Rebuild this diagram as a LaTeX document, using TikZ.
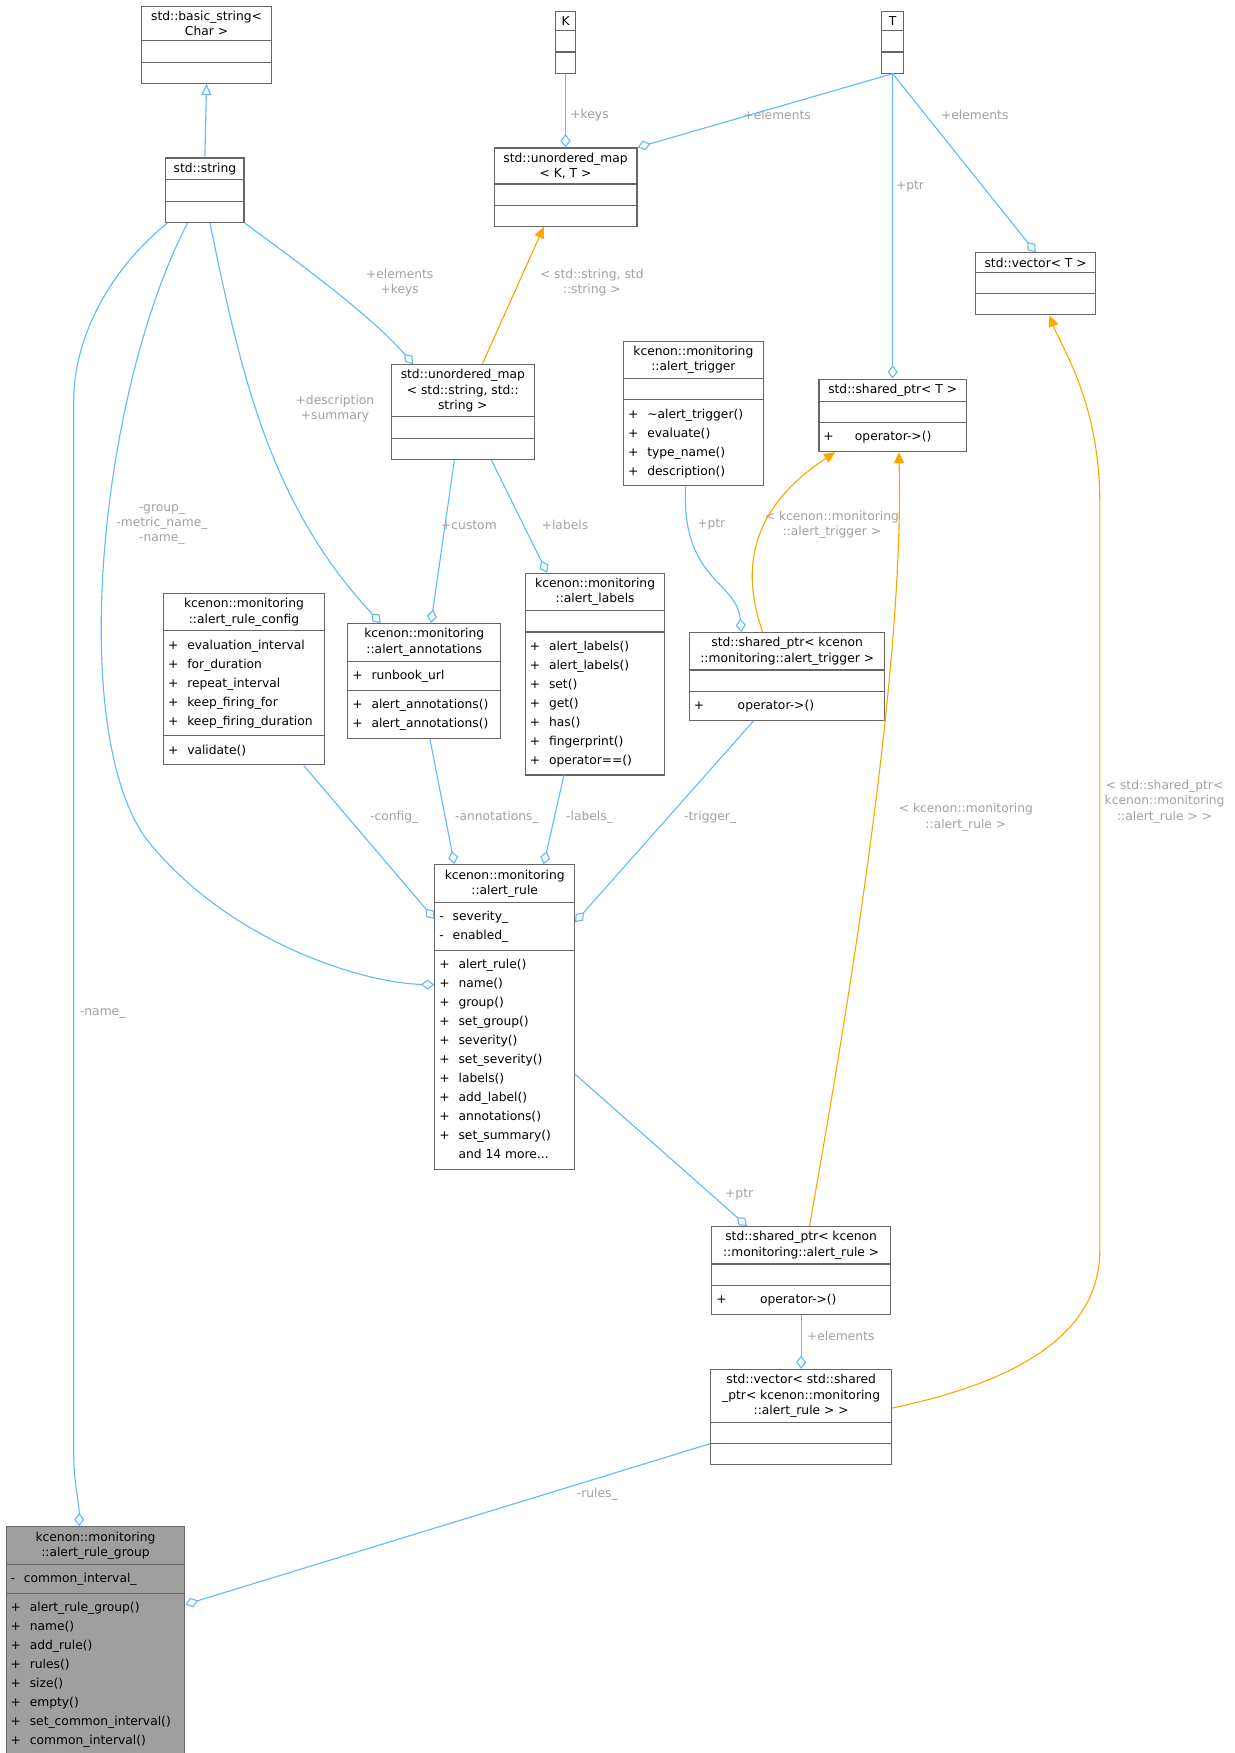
\documentclass[tikz,border=0pt]{standalone}
\usepackage{fontspec}
\setmainfont{DejaVu Sans}
\usetikzlibrary{shapes.multipart,arrows.meta}
\definecolor{edgeblue}{RGB}{99,184,255}
\definecolor{edgeorange}{RGB}{255,165,0}
\definecolor{lblgray}{RGB}{160,160,160}
\definecolor{boxline}{RGB}{102,102,102}
\newcommand{\emptypart}{\rule{0pt}{5pt}}
\newcommand{\members}[1]{\setlength{\tabcolsep}{0pt}\renewcommand{\arraystretch}{1.25}\begin{tabular}{@{}l@{\hspace{4pt}}l@{}}#1\end{tabular}}
\tikzset{every picture/.style={line width=0.5pt}}
\begin{document}
\begin{tikzpicture}[x=0.5pt,y=0.5pt,yscale=-1,xscale=1,
  cls/.style={rectangle split, rectangle split parts=3, draw=boxline, fill=white,
    anchor=north west, inner sep=2pt, font=\fontsize{5.5}{6.8}\selectfont,
    rectangle split part align={center,left,left}, align=center},
  agg/.style={draw=edgeblue, -{Diamond[open,length=6pt,width=4.5pt]}},
  inh/.style={draw=edgeblue, -{Triangle[open,length=5pt,width=4.5pt]}},
  tpl/.style={draw=edgeorange, -{Triangle[length=5pt,width=4.5pt]}},
  lbl/.style={text=lblgray, font=\fontsize{5.5}{6.8}\selectfont, align=center}]
\useasboundingbox (0,0) rectangle (1106,1570);

% classes
\node [cls, minimum width=58.5] (basicstr) at (126,5) {std::basic\_string<\\ Char >\nodepart{two}\emptypart\nodepart{three}\emptypart};
\node [cls, minimum width=9] (K) at (497,10) {K\nodepart{two}\emptypart\nodepart{three}\emptypart};
\node [cls, minimum width=10] (T) at (789,10) {T\nodepart{two}\emptypart\nodepart{three}\emptypart};
\node [cls, minimum width=64] (umapKT) at (442,132) {std::unordered\_map\\ < K, T >\nodepart{two}\emptypart\nodepart{three}\emptypart};
\node [cls, minimum width=35] (str) at (148,141) {std::string\nodepart{two}\emptypart\nodepart{three}\emptypart};
\node [cls, minimum width=54] (vecT) at (873,226) {std::vector< T >\nodepart{two}\emptypart\nodepart{three}\emptypart};
\node [cls, minimum width=64] (umapss) at (350,326) {std::unordered\_map\\ < std::string, std::\\ string >\nodepart{two}\emptypart\nodepart{three}\emptypart};
\node [cls, minimum width=62.5] (trigger) at (558,305) {kcenon::monitoring\\ ::alert\_trigger\nodepart{two}\emptypart\nodepart{three}\members{+ & \textasciitilde alert\_trigger()\\ + & evaluate()\\ + & type\_name()\\ + & description()}};
\node [cls, minimum width=66] (spT) at (733,339) {std::shared\_ptr< T >\nodepart{two}\emptypart\nodepart{three}\members{+ & \quad operator->()}};
\node [cls, minimum width=62.5] (labels) at (470,513) {kcenon::monitoring\\ ::alert\_labels\nodepart{two}\emptypart\nodepart{three}\members{+ & alert\_labels()\\ + & alert\_labels()\\ + & set()\\ + & get()\\ + & has()\\ + & fingerprint()\\ + & operator==()}};
\node [cls, minimum width=87.5] (sptrig) at (617,566) {std::shared\_ptr< kcenon\\ ::monitoring::alert\_trigger >\nodepart{two}\emptypart\nodepart{three}\members{+ & \qquad operator->()}};
\node [cls, minimum width=72] (config) at (146,531) {kcenon::monitoring\\ ::alert\_rule\_config\nodepart{two}\members{+ & evaluation\_interval\\ + & for\_duration\\ + & repeat\_interval\\ + & keep\_firing\_for\\ + & keep\_firing\_duration}\nodepart{three}\members{+ & validate()}};
\node [cls, minimum width=68.5] (annot) at (311,558) {kcenon::monitoring\\ ::alert\_annotations\nodepart{two}\members{+ & runbook\_url}\nodepart{three}\members{+ & alert\_annotations()\\ + & alert\_annotations()}};
\node [cls, minimum width=62.5] (rule) at (389,774) {kcenon::monitoring\\ ::alert\_rule\nodepart{two}\members{- & severity\_\\ - & enabled\_}\nodepart{three}\members{+ & alert\_rule()\\ + & name()\\ + & group()\\ + & set\_group()\\ + & severity()\\ + & set\_severity()\\ + & labels()\\ + & add\_label()\\ + & annotations()\\ + & set\_summary()\\ & and 14 more...}};
\node [cls, minimum width=80] (sprule) at (637,1098) {std::shared\_ptr< kcenon\\ ::monitoring::alert\_rule >\nodepart{two}\emptypart\nodepart{three}\members{+ & \qquad operator->()}};
\node [cls, minimum width=81] (vecrule) at (636,1226) {std::vector< std::shared\\ \_ptr< kcenon::monitoring\\ ::alert\_rule > >\nodepart{two}\emptypart\nodepart{three}\emptypart};
\node [cls, minimum width=80, fill=gray!75] (group) at (5,1367) {kcenon::monitoring\\ ::alert\_rule\_group\nodepart{two}\members{- & common\_interval\_}\nodepart{three}\members{+ & alert\_rule\_group()\\ + & name()\\ + & add\_rule()\\ + & rules()\\ + & size()\\ + & empty()\\ + & set\_common\_interval()\\ + & common\_interval()}};

% connectors
\draw [inh] (str.north) -- (basicstr.south);
\draw [agg] (K.south) -- (umapKT.north);
\draw [agg] (T.south) -- (umapKT.north east);
\draw [agg] (T.south) -- (vecT.north);
\draw [agg] (T.south) -- (spT.north);
\draw [tpl] ([xshift=41]umapss.north west) -- ([xshift=22.5]umapKT.south west);
\draw [agg] (str.south east) .. controls (260,230) and (330,280) .. ([xshift=10]umapss.north west);
\draw [agg] ([xshift=20]str.south west) .. controls (215,330) and (240,450) .. ([xshift=15]annot.north west);
\draw [agg] ([xshift=28.5]umapss.south west) -- ([xshift=37.5]annot.north west);
\draw [agg] ([xshift=45]umapss.south west) -- ([xshift=10]labels.north west);
\draw [agg] ([xshift=28]trigger.south west) .. controls (610,520) and (660,520) .. ([xshift=23.5]sptrig.north west);
\draw [tpl] ([xshift=33]sptrig.north west) .. controls (660,500) and (680,450) .. ([xshift=7.5]spT.south west);
\draw [agg] ([xshift=63]config.south west) -- ([yshift=24.5]rule.north west);
\draw [agg] ([xshift=37]annot.south west) -- ([xshift=9]rule.north west);
\draw [agg] ([xshift=17.5]labels.south west) -- ([xshift=49]rule.north west);
\draw [agg] ([xshift=29]sptrig.south west) -- ([yshift=26]rule.north east);
\draw [agg] ([xshift=10]str.south west) .. controls (90,350) and (60,650) .. (130,750) .. controls (200,840) and (320,880) .. ([yshift=54]rule.north west);
\draw [agg] ([xshift=1]str.south west) .. controls (100,240) and (66,300) .. (66,360) -- (66,1300) .. controls (66,1330) and (71,1345) .. ([xshift=33]group.north west);
\draw [agg] ([yshift=94]rule.north east) -- ([xshift=16]sprule.north west);
\draw [tpl] ([xshift=44]sprule.north west) .. controls (760,900) and (810,600) .. ([xshift=36]spT.south west);
\draw [agg] (sprule.south) -- (vecrule.north);
\draw [tpl] ([yshift=17.5]vecrule.north east) .. controls (900,1240) and (985,1200) .. (985,1120) -- (985,450) .. controls (985,360) and (950,310) .. ([xshift=33.5]vecT.south west);
\draw [agg] ([yshift=33.5]vecrule.north west) -- ([yshift=35]group.north east);

% labels
\node [lbl] (l1) at (528,103) {+keys};
\node [lbl] (l2) at (696,103) {+elements};
\node [lbl] (l3) at (873,103) {+elements};
\node [lbl] (l4) at (815,167) {+ptr};
\node [lbl] (l5) at (530,253) {< std::string, std\\ ::string >};
\node [lbl] (l6) at (358,253) {+elements\\ +keys};
\node [lbl] (l7) at (300,366) {+description\\ +summary};
\node [lbl] (l8) at (420,470) {+custom};
\node [lbl] (l9) at (506,470) {+labels};
\node [lbl] (l10) at (637,470) {+ptr};
\node [lbl] (l11) at (745,470) {< kcenon::monitoring\\ ::alert\_trigger >};
\node [lbl] (l12) at (145,470) {-group\_\\ -metric\_name\_\\ -name\_};
\node [lbl] (l13) at (353,732) {-config\_};
\node [lbl] (l14) at (445,732) {-annotations\_};
\node [lbl] (l15) at (528,732) {-labels\_};
\node [lbl] (l16) at (636,732) {-trigger\_};
\node [lbl] (l17) at (865,732) {< kcenon::monitoring\\ ::alert\_rule >};
\node [lbl] (l18) at (1043,718) {< std::shared\_ptr<\\ kcenon::monitoring\\ ::alert\_rule > >};
\node [lbl] (l19) at (92,908) {-name\_};
\node [lbl] (l20) at (662,1070) {+ptr};
\node [lbl] (l21) at (753,1196) {+elements};
\node [lbl] (l22) at (535,1338) {-rules\_};
\end{tikzpicture}
\end{document}
